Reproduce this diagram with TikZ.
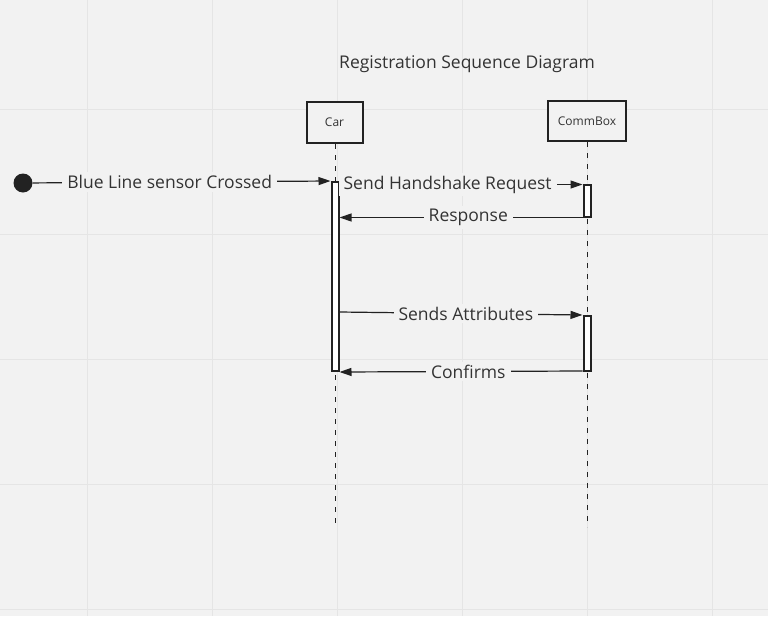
\documentclass[tikz,border=0pt]{standalone}
\usepackage{fontspec}
\setmainfont{Open Sans}
\usetikzlibrary{arrows.meta,calc}
\definecolor{bg}{HTML}{F2F2F2}
\definecolor{gridc}{HTML}{E5E5E5}
\definecolor{ink}{HTML}{222222}
\definecolor{txt}{HTML}{333333}
\tikzset{
  headbox/.style={draw=ink,line width=2pt,fill=bg,inner sep=0pt,text=txt,font=\fontsize{12}{14}\selectfont},
  actbox/.style={draw=ink,line width=2pt,fill=white,inner sep=0pt,minimum width=7pt},
  lifeline/.style={draw=ink,line width=1pt,dash pattern=on 5pt off 6pt},
  msg/.style={draw=ink,line width=1.2pt,-{Triangle[length=12pt,width=8pt]}},
  lbl/.style={fill=bg,text=txt,inner xsep=5pt,inner ysep=3pt,font=\fontsize{17.5}{20}\selectfont},
  gridline/.style={draw=gridc,line width=1pt}
}
\begin{document}
\begin{tikzpicture}[x=1pt,y=-1pt]
\fill[bg] (0,0) rectangle (768,616);
\useasboundingbox (0,0) rectangle (768,616);
\foreach \gx in {87,212,337,462,587,712} \draw[gridline] (\gx,0) -- (\gx,616);
\foreach \gy in {109,234,359,484,609} \draw[gridline] (0,\gy) -- (768,\gy);

\node[text=txt,font=\fontsize{17.5}{20}\selectfont] (title) at (467,64) {Registration Sequence Diagram};

\node[headbox,minimum width=56pt,minimum height=41pt] (car) at (334.5,122.5) {Car};
\node[headbox,minimum width=78pt,minimum height=40pt] (comm) at (587,121) {CommBox};

\coordinate (carend) at (335.5,527);
\coordinate (commend) at (587,527);
\draw[lifeline] (car.south) ++(1,0) -- (carend);
\draw[lifeline] (comm.south) -- (commend);

\node[actbox,minimum height=189pt] (caract) at (335,276.5) {};
\node[actbox,minimum height=32pt] (comm1) at (587,200.5) {};
\node[actbox,minimum height=55pt] (comm2) at (587,343.5) {};

\node[circle,fill=ink,inner sep=0pt,minimum size=19pt] (start) at (23,183) {};

\draw[msg] (start) -- node[lbl,pos=.46] {Blue Line sensor Crossed} (caract.north west);
\draw[msg] ($(caract.east |- comm1.north)+(0,1)$) -- node[lbl,pos=.445] {Send Handshake Request} ($(comm1.north west)+(0,1)$);
\draw[msg] (comm1.south west) -- node[lbl,pos=.47] {Response} (caract.east |- comm1.south);
\draw[msg] ($(caract.east |- comm2.north)+(0,-3)$) -- node[lbl,pos=.52] {Sends Attributes} (comm2.north west);
\draw[msg] ($(comm2.south west)+(0,-1)$) -- node[lbl,pos=.47] {Confirms} (caract.east |- comm2.south);
\end{tikzpicture}
\end{document}
